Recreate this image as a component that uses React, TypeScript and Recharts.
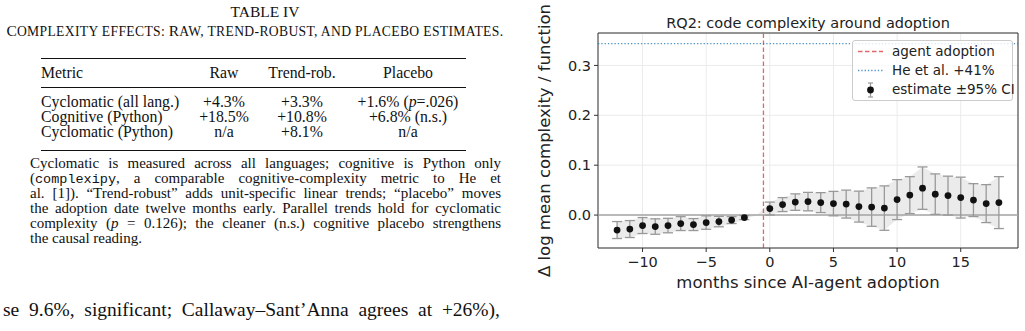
import React from 'react';
import {
  ComposedChart,
  Area,
  Scatter,
  ErrorBar,
  XAxis,
  YAxis,
  CartesianGrid,
  ReferenceLine,
  ReferenceArea,
} from 'recharts';

// ---- event-study data: months relative to adoption ----
const months = [-12, -11, -10, -9, -8, -7, -6, -5, -4, -3, -2, -1, 0, 1, 2, 3, 4, 5, 6, 7, 8, 9, 10, 11, 12, 13, 14, 15, 16, 17, 18];
const estimates = [-0.030, -0.028, -0.021, -0.023, -0.021, -0.017, -0.019, -0.015, -0.013, -0.010, -0.005, 0, 0.013, 0.021, 0.026, 0.027, 0.025, 0.023, 0.022, 0.017, 0.016, 0.014, 0.031, 0.040, 0.054, 0.042, 0.039, 0.035, 0.030, 0.023, 0.025];
const ciHalfWidths = [0.017, 0.017, 0.016, 0.0155, 0.0145, 0.014, 0.012, 0.0135, 0.0105, 0.007, 0.004, 0, 0.013, 0.014, 0.0165, 0.0185, 0.020, 0.0245, 0.028, 0.031, 0.0385, 0.0445, 0.040, 0.037, 0.0425, 0.0405, 0.039, 0.041, 0.033, 0.038, 0.052];
const referenceMonth = -1;
const adoptionMarker = -0.5;
const heBenchmark = Math.log(1.41);

const xTicks = [-10, -5, 0, 5, 10, 15];
const yTicks = [0, 0.1, 0.2, 0.3];
const xDomain: [number, number] = [-13.5, 19.5];
const yDomain: [number, number] = [-0.066, 0.365];

const legendLabels = ['agent adoption', 'He et al. +41%', 'estimate \u00b195% CI'];

// ---- table content ----
const tableHeader = ['Metric', 'Raw', 'Trend-rob.', 'Placebo'];
const tableMetrics = ['Cyclomatic (all lang.)', 'Cognitive (Python)', 'Cyclomatic (Python)'];
const rawEffects = ['+4.3%', '+18.5%', 'n/a'];
const trendEffects = ['+3.3%', '+10.8%', '+8.1%'];
const placeboEffects: React.ReactNode[] = [
  <>+1.6% (<i>p</i>=.026)</>,
  <>+6.8% (n.s.)</>,
  <>n/a</>,
];

const bandData = months.map((m, i) => ({
  month: m,
  band: [estimates[i] - ciHalfWidths[i], estimates[i] + ciHalfWidths[i]],
}));
const pointData = months
  .map((m, i) => ({ month: m, est: estimates[i], ci: ciHalfWidths[i] }))
  .filter((d) => d.month !== referenceMonth);

const SERIF = '"Liberation Serif", "Times New Roman", serif';
const SANS = '"DejaVu Sans", sans-serif';
const MINUS = '\u2212';

const fmtX = (v: number) => String(v).replace('-', MINUS);
const fmtY = (v: number) => v.toFixed(1).replace('-', MINUS);

const Dot = (props: any) => {
  const { cx, cy } = props;
  if (cx == null || cy == null) return null;
  return <circle cx={cx} cy={cy} r={3.4} fill="#111" />;
};

const colLeft = 41;
const colCenters = [224, 302, 408];
const rowCenters = [102, 117, 131.5];

function Cell({ x, y, center, children }: { x: number; y: number; center?: boolean; children: React.ReactNode }) {
  return (
    <div
      style={{
        position: 'absolute',
        left: x,
        top: y - 7,
        height: 14,
        lineHeight: '14px',
        whiteSpace: 'nowrap',
        transform: center ? 'translateX(-50%)' : undefined,
      }}
    >
      {children}
    </div>
  );
}

const noteLines: React.ReactNode[] = [
  <>Cyclomatic is measured across all languages; cognitive is Python only</>,
  <>(<span style={{ fontFamily: '"Liberation Mono", monospace', fontSize: 13.5 }}>complexipy</span>, a comparable cognitive-complexity metric to He et</>,
  <>al. [1]). “Trend-robust” adds unit-specific linear trends; “placebo” moves</>,
  <>the adoption date twelve months early. Parallel trends hold for cyclomatic</>,
  <>complexity (<i>p</i> = 0.126); the cleaner (n.s.) cognitive placebo strengthens</>,
  <>the causal reading.</>,
];

const smallCaps: React.CSSProperties = { fontSize: 13.6, letterSpacing: 0.35 };

function TablePanel() {
  return (
    <div style={{ position: 'absolute', left: 0, top: 0, width: 530, height: 331, fontFamily: SERIF, fontSize: 15, color: '#111' }}>
      <div style={{ position: 'absolute', left: 0, width: 530, top: 4, fontSize: 15.5, textAlign: 'center', lineHeight: '16px' }}>TABLE IV</div>
      <div style={{ position: 'absolute', left: 0, width: 510, top: 23, fontSize: 15.5, textAlign: 'center', lineHeight: '16px', whiteSpace: 'nowrap' }}>
        C<span style={smallCaps}>OMPLEXITY EFFECTS: </span>R<span style={smallCaps}>AW, TREND-ROBUST, AND PLACEBO ESTIMATES.</span>
      </div>
      <div style={{ position: 'absolute', left: 41, width: 425, top: 57.5, height: 1.3, background: '#111' }} />
      <div style={{ position: 'absolute', left: 41, width: 425, top: 87, height: 0.8, background: '#111' }} />
      <div style={{ position: 'absolute', left: 41, width: 425, top: 150, height: 1.3, background: '#111' }} />
      <div style={{ fontSize: 15.8 }}>
        <Cell x={colLeft} y={73}>{tableHeader[0]}</Cell>
        {colCenters.map((c, j) => (
          <Cell key={'h' + j} x={c} y={73} center>{tableHeader[j + 1]}</Cell>
        ))}
        {tableMetrics.map((m, i) => (
          <React.Fragment key={m}>
            <Cell x={colLeft} y={rowCenters[i]}>{m}</Cell>
            <Cell x={colCenters[0]} y={rowCenters[i]} center>{rawEffects[i]}</Cell>
            <Cell x={colCenters[1]} y={rowCenters[i]} center>{trendEffects[i]}</Cell>
            <Cell x={colCenters[2]} y={rowCenters[i]} center>{placeboEffects[i]}</Cell>
          </React.Fragment>
        ))}
      </div>
      {noteLines.map((line, i) => (
        <div
          key={i}
          style={{
            position: 'absolute',
            left: 30,
            width: 471,
            top: 155.5 + i * 15,
            lineHeight: '15px',
            whiteSpace: 'nowrap',
            textAlign: i < noteLines.length - 1 ? 'justify' : 'left',
            textAlignLast: i < noteLines.length - 1 ? 'justify' : 'left',
          } as React.CSSProperties}
        >
          {line}
        </div>
      ))}
      <div
        style={{
          position: 'absolute',
          left: 3,
          width: 497,
          top: 298,
          fontSize: 19.5,
          lineHeight: '24px',
          whiteSpace: 'nowrap',
          textAlign: 'justify',
          textAlignLast: 'justify',
        } as React.CSSProperties}
      >
        se 9.6%, significant; Callaway–Sant’Anna agrees at +26%),
      </div>
    </div>
  );
}

function LegendBox() {
  return (
    <div
      style={{
        position: 'absolute',
        left: 852,
        top: 40,
        width: 159,
        height: 59,
        background: 'rgba(255,255,255,0.8)',
        border: '1px solid #cccccc',
        borderRadius: 3,
        fontFamily: SANS,
        fontSize: 13.5,
        color: '#222',
      }}
    >
      <svg width={40} height={59} style={{ position: 'absolute', left: 0, top: 0 }}>
        <line x1={5} x2={30} y1={10.5} y2={10.5} stroke="#d62728" strokeOpacity={0.7} strokeWidth={1.3} strokeDasharray="4.5 2.5" />
        <line x1={5} x2={30} y1={29.5} y2={29.5} stroke="#1f77b4" strokeOpacity={0.8} strokeWidth={1.3} strokeDasharray="1.3 2" />
        <line x1={17.5} x2={17.5} y1={42} y2={56} stroke="#999" strokeWidth={1.2} />
        <line x1={15} x2={20} y1={42} y2={42} stroke="#999" strokeWidth={1.2} />
        <line x1={15} x2={20} y1={56} y2={56} stroke="#999" strokeWidth={1.2} />
        <circle cx={17.5} cy={49} r={3.4} fill="#111" />
      </svg>
      {legendLabels.map((t, i) => (
        <div key={t} style={{ position: 'absolute', left: 39, top: 1 + i * 19, lineHeight: '19px', whiteSpace: 'nowrap' }}>
          {t}
        </div>
      ))}
    </div>
  );
}

function EventStudyChart() {
  return (
    <div style={{ position: 'absolute', left: 530, top: 0, width: 495, height: 331 }}>
      <div
        style={{
          position: 'absolute',
          left: 68,
          width: 420,
          top: 13,
          textAlign: 'center',
          fontFamily: SANS,
          fontSize: 14.5,
          lineHeight: '20px',
          color: '#222',
        }}
      >
        RQ2: code complexity around adoption
      </div>
      <ComposedChart
        width={495}
        height={331}
        data={bandData}
        margin={{ top: 33, right: 7, bottom: 33, left: 0 }}
        style={{ fontFamily: SANS }}
      >
        <CartesianGrid stroke="#ebebeb" strokeWidth={1} />
        <XAxis
          dataKey="month"
          type="number"
          domain={xDomain}
          ticks={xTicks}
          allowDataOverflow
          tickFormatter={fmtX}
          height={50}
          tickSize={4}
          tickMargin={5}
          axisLine={false}
          tickLine={{ stroke: '#333' }}
          tick={{ fill: '#222', fontSize: 14.5 }}
          label={{
            value: 'months since AI-agent adoption',
            position: 'insideBottom',
            offset: 10,
            fill: '#222',
            fontSize: 16.5,
          }}
        />
        <YAxis
          type="number"
          domain={yDomain}
          ticks={yTicks}
          allowDataOverflow
          tickFormatter={fmtY}
          width={68}
          tickSize={4}
          tickMargin={3}
          axisLine={false}
          tickLine={{ stroke: '#333' }}
          tick={{ fill: '#222', fontSize: 14.5 }}
          label={{
            value: '\u0394 log mean complexity / function',
            angle: -90,
            position: 'insideLeft',
            offset: 14,
            style: { textAnchor: 'middle' },
            fill: '#222',
            fontSize: 16.5,
          }}
        />
        <Area
          dataKey="band"
          type="linear"
          stroke="none"
          fill="#bdbdbd"
          fillOpacity={0.3}
          isAnimationActive={false}
        />
        <ReferenceLine y={0} stroke="#a6a6a6" strokeWidth={1.5} />
        <ReferenceLine x={adoptionMarker} stroke="#d62728" strokeOpacity={0.7} strokeWidth={1.3} strokeDasharray="4.5 2.5" />
        <ReferenceLine y={heBenchmark} stroke="#1f77b4" strokeOpacity={0.8} strokeWidth={1.3} strokeDasharray="1.3 2" />
        <Scatter data={pointData} dataKey="est" shape={<Dot />} isAnimationActive={false}>
          <ErrorBar dataKey="ci" direction="y" width={5} stroke="#999" strokeWidth={1.3} isAnimationActive={false} />
        </Scatter>
        <ReferenceArea
          x1={xDomain[0]}
          x2={xDomain[1]}
          y1={yDomain[0]}
          y2={yDomain[1]}
          fill="none"
          fillOpacity={0}
          stroke="#333"
          strokeWidth={1}
          ifOverflow="visible"
        />
      </ComposedChart>
    </div>
  );
}

export default function App() {
  return (
    <div style={{ position: 'absolute', left: 0, top: 0, width: 1025, height: 331, background: '#fff', overflow: 'hidden' }}>
      <TablePanel />
      <EventStudyChart />
      <LegendBox />
    </div>
  );
}
